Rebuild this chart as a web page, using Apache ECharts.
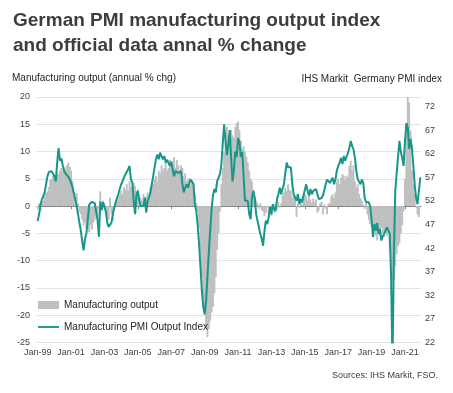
<!DOCTYPE html>
<html>
<head>
<meta charset="utf-8">
<script src="https://cdn.jsdelivr.net/npm/echarts@6/dist/echarts.min.js"></script>
<style>
html,body{margin:0;padding:0;background:#ffffff;}
#chart{width:453px;height:393px;}
</style>
</head>
<body>
<div id="chart"></div>
<script>
// ---------- DATA ----------
const monthNames = ['Jan','Feb','Mar','Apr','May','Jun','Jul','Aug','Sep','Oct','Nov','Dec'];
const years = ['99','00','01','02','03','04','05','06','07','08','09','10','11','12','13','14','15','16','17','18','19','20','21'];
const categories = [];
years.forEach(y => monthNames.forEach(m => categories.push(m + '-' + y)));

const xTickLabels = ['Jan-99','Jan-01','Jan-03','Jan-05','Jan-07','Jan-09','Jan-11','Jan-13','Jan-15','Jan-17','Jan-19','Jan-21'];
const leftTicks = [-25,-20,-15,-10,-5,0,5,10,15,20];
const rightTicks = [22,27,32,37,42,47,52,57,62,67,72];

// Manufacturing output, annual % change (monthly, Jan-99 .. Nov-21)
const outputChg = [
  -0.5, 0.5, -1, 0.8, 1, 1.8, 2.4, 2.7, 3.5, 4.8, 5, 5.5,            // 1999
  5.8, 5.3, 6.2, 5.8, 6.5, 7, 6.3, 7.2, 6.8, 7.5, 8, 7.2,             // 2000
  6.5, 4.6, 2.5, 0.3, 2.4, 0.5, -1, -1.5, -2.5, -3.5, -3, -4,         // 2001
  -4, -4.8, -3.5, -4.3, -3, -2.5, -1.5, -2, -0.5, 2.7, 0.5, 1,        // 2002
  0.5, -1, -2, -2.5, 1.6, -1.5, -2.7, -0.5, 0.3, 1, 1.5, 2,           // 2003
  2.8, 2.2, 3.5, 3, 4, 2.8, 4.6, 3.5, 3.2, 4.3, 3.7, 2.5,             // 2004
  3, 2, 1.5, 1, 2.2, 0.5, 1.8, 2.5, 1.5, 3.5, 4.5, 4,                 // 2005
  5, 5.5, 4.5, 6.5, 6, 7.5, 6.5, 7, 8, 6.5, 7, 8.5,                   // 2006
  7.5, 8, 9, 7, 8.5, 7.5, 6.5, 7.5, 7, 5.5, 6, 4.5,                   // 2007
  5, 5.2, 4, 4.5, 2.8, 2.2, 0.5, -1, -4, -9, -13, -17,                // 2008
  -20, -22.5, -24, -22.5, -21, -19.5, -18.5, -16, -13, -8, -5, -1,    // 2009
  4, 7, 10, 12, 14.5, 13, 12, 14, 13, 12.5, 14.5, 15.2,               // 2010
  15.5, 14, 12, 10.5, 11, 10, 9, 8, 6.5, 5, 4.5, 3,                   // 2011
  1.5, 1, 0.5, -0.5, 0.5, -0.8, -1, -1.8, -1.2, -0.2, -2, -1.5,       // 2012
  -1.8, -0.5, -1.2, 0.4, -0.5, 0.8, -0.3, 0.5, 2, 2.5, 3.4, 2.8,      // 2013
  4, 3, 2.8, 1.6, 2, 1.2, -2, 0.5, -0.3, 0.8, 0.2, 1.5,               // 2014
  2.2, 1.8, 1, 2, 1.2, 0.6, 1.4, 0.8, 1.2, -1.2, -0.8, 0.5,           // 2015
  0.8, -1.5, 0.3, -0.5, -1.5, 0.5, 0.5, 1.8, 2.2, 1.5, 2.5, 4.5,      // 2016
  5, 4, 5.2, 5.9, 5.5, 4.8, 5.6, 5.2, 7.4, 8.3, 6.5, 7.5,             // 2017
  4.6, 3.4, 4, 2.2, 1.5, 1, 0.3, -0.5, 0.5, -1.5, -2.5, -3.3,         // 2018
  -3.9, -5.1, -4, -5.5, -6.3, -4.5, -5.5, -4, -5, -5.7, -4.5, -5.5,   // 2019
  -4.5, -8, -12.5, -13.8, -13.5, -11, -8.8, -7.3, -6.8, -5, -3.5, -1, // 2020
  5, 14.4, 28.5, 19, 13.8, 6.5, 4, 2.2, -0.3, -1.5, -2                // 2021
];

// IHS Markit Germany manufacturing PMI output index (monthly, Jan-99 .. Dec-21)
const pmiOutput = [
  47.7, 49.2, 51.2, 52.3, 53.0, 53.8, 55.5, 57.2, 58.1, 58.4, 58.3, 58.0,  // 1999
  57.2, 56.1, 60.1, 63.2, 60.5, 61.0, 59.5, 58.3, 57.8, 57.6, 57.1, 56.6,  // 2000
  56.2, 54.9, 53.6, 52.3, 50.9, 49.2, 47.4, 45.7, 43.4, 41.5, 44.0, 45.1,  // 2001
  48.0, 51.2, 51.6, 51.8, 51.7, 51.5, 51.1, 48.0, 44.4, 51.9, 50.0, 51.7,  // 2002
  51.7, 49.7, 47.4, 46.5, 46.4, 47.4, 49.2, 50.5, 51.7, 52.6, 53.4, 54.6,  // 2003
  55.5, 56.2, 56.9, 57.6, 58.1, 58.7, 59.4, 56.6, 55.8, 52.0, 49.2, 53.4,  // 2004
  54.1, 52.0, 50.9, 51.1, 50.9, 52.7, 49.5, 52.0, 52.7, 53.8, 55.5, 57.2,  // 2005
  59.1, 60.8, 61.8, 60.8, 62.2, 61.5, 60.8, 61.5, 60.1, 60.7, 61.1, 59.4,  // 2006
  60.3, 58.7, 57.2, 58.3, 58.0, 57.9, 57.6, 58.3, 55.5, 53.8, 54.8, 55.5,  // 2007
  54.8, 55.8, 56.5, 56.1, 55.5, 51.3, 49.8, 46.8, 42.8, 38.0, 33.0, 29.6,  // 2008
  28.0, 30.7, 35.9, 41.1, 45.7, 50.3, 53.2, 54.5, 53.8, 56.2, 56.9, 57.7,  // 2009
  59.5, 64.1, 68.2, 64.7, 61.7, 63.8, 67.0, 61.3, 56.1, 58.4, 62.5, 61.3,  // 2010
  65.3, 64.5, 61.3, 62.4, 57.2, 52.0, 52.0, 52.0, 49.2, 48.1, 52.7, 54.1,  // 2011
  52.7, 49.2, 47.8, 46.4, 45.0, 44.0, 42.5, 45.7, 47.8, 47.1, 48.5, 50.7,  // 2012
  49.2, 51.3, 50.3, 49.8, 52.4, 53.4, 54.8, 53.4, 54.6, 55.5, 58.0, 60.1,  // 2013
  59.1, 58.7, 59.1, 55.5, 53.4, 53.8, 52.0, 53.4, 51.3, 52.4, 51.7, 53.1,  // 2014
  53.4, 55.5, 54.1, 53.1, 54.5, 53.4, 54.1, 54.1, 54.5, 54.1, 52.4, 52.0,  // 2015
  52.6, 53.1, 53.4, 55.5, 56.5, 56.9, 55.8, 55.8, 56.9, 55.5, 56.5, 58.4,  // 2016
  59.4, 60.1, 61.1, 59.8, 61.5, 60.5, 60.7, 62.2, 63.2, 64.7, 63.6, 62.9,  // 2017
  61.1, 58.4, 56.6, 56.2, 55.5, 56.5, 55.8, 52.6, 51.7, 51.3, 51.7, 50.7,  // 2018
  48.0, 44.3, 47.1, 45.7, 47.3, 45.0, 46.0, 43.6, 44.5, 45.0, 44.7, 46.4,  // 2019
  45.7, 45.1, 35.9, 17.0, 40.5, 54.1, 57.8, 61.3, 64.7, 62.4, 61.1, 59.4,  // 2020
  64.7, 68.5, 67.5, 63.0, 65.1, 63.2, 59.5, 55.3, 52.6, 51.3, 51.7, 57.0   // 2021
];

// ---------- CHART ----------
const FONT = '"Liberation Sans", Arial, Helvetica, sans-serif';
const TEAL = '#17978a';
const chart = echarts.init(document.getElementById('chart'), null, {renderer: 'canvas'});
const showTick = (idx, val) => xTickLabels.indexOf(val) !== -1;

chart.setOption({
  animation: false,
  backgroundColor: '#ffffff',
  textStyle: {fontFamily: FONT},
  title: {
    text: 'German PMI manufacturing output index\nand official data annal % change',
    left: 13, top: 8, padding: 0,
    textStyle: {fontFamily: FONT, fontSize: 19, fontWeight: 'bold', color: '#3d3d3d', lineHeight: 25}
  },
  graphic: [
    {type: 'text', left: 12, top: 73,
     style: {text: 'Manufacturing output (annual % chg)', font: '10px ' + FONT, fill: '#262626'}},
    {type: 'text', right: 11, top: 74,
     style: {text: 'IHS Markit  Germany PMI index', font: '10px ' + FONT, fill: '#262626'}},
    {type: 'text', right: 15, top: 371,
     style: {text: 'Sources: IHS Markit, FSO.', font: '9px ' + FONT, fill: '#404040'}}
  ],
  legend: {
    orient: 'vertical', left: 38, top: 300, padding: 0,
    itemWidth: 21, itemHeight: 8, itemGap: 12,
    textStyle: {fontFamily: FONT, fontSize: 10, color: '#262626'},
    data: [
      {name: 'Manufacturing output', icon: 'rect'},
      {name: 'Manufacturing PMI Output Index', icon: 'path://M0,0 L22,0 L22,2 L0,2 Z'}
    ]
  },
  grid: {left: 37, right: 32, top: 97, bottom: 50.5, containLabel: false},
  xAxis: [
    {
      type: 'category', data: categories, boundaryGap: true, position: 'bottom',
      axisLine: {show: false, onZero: false},
      axisTick: {show: false},
      splitLine: {show: false},
      axisLabel: {interval: showTick, fontFamily: FONT, fontSize: 9, color: '#404040', margin: 6}
    },
    {
      type: 'category', data: categories, boundaryGap: true, position: 'bottom',
      axisLine: {show: true, onZero: true, onZeroAxisIndex: 0, lineStyle: {color: '#7f7f7f', width: 1}},
      axisTick: {show: true, interval: showTick, alignWithLabel: true, length: 3, lineStyle: {color: '#7f7f7f'}},
      axisLabel: {show: false},
      splitLine: {show: false}
    }
  ],
  yAxis: [
    {
      type: 'value', position: 'left',
      min: leftTicks[0], max: leftTicks[leftTicks.length - 1], interval: 5,
      axisLine: {show: false}, axisTick: {show: false},
      splitLine: {show: true, lineStyle: {color: '#e3e3e3', width: 1}},
      axisLabel: {fontFamily: FONT, fontSize: 9, color: '#404040', margin: 7}
    },
    {
      type: 'value', position: 'right',
      min: 22, max: 74,
      axisLine: {show: false}, axisTick: {show: false},
      splitLine: {show: false},
      axisLabel: {customValues: rightTicks, fontFamily: FONT, fontSize: 9, color: '#404040', margin: 4}
    }
  ],
  series: [
    {
      name: 'Manufacturing output', type: 'bar',
      xAxisIndex: 0, yAxisIndex: 0,
      data: outputChg,
      barWidth: 1.9,
      clip: true,
      itemStyle: {color: '#bfbfbf'},
      emphasis: {disabled: true}
    },
    {
      name: 'Manufacturing PMI Output Index', type: 'line',
      xAxisIndex: 0, yAxisIndex: 1,
      data: pmiOutput,
      symbol: 'none', showSymbol: false,
      clip: true,
      lineStyle: {color: TEAL, width: 2},
      itemStyle: {color: TEAL},
      emphasis: {disabled: true},
      z: 3
    }
  ]
});
</script>
</body>
</html>
